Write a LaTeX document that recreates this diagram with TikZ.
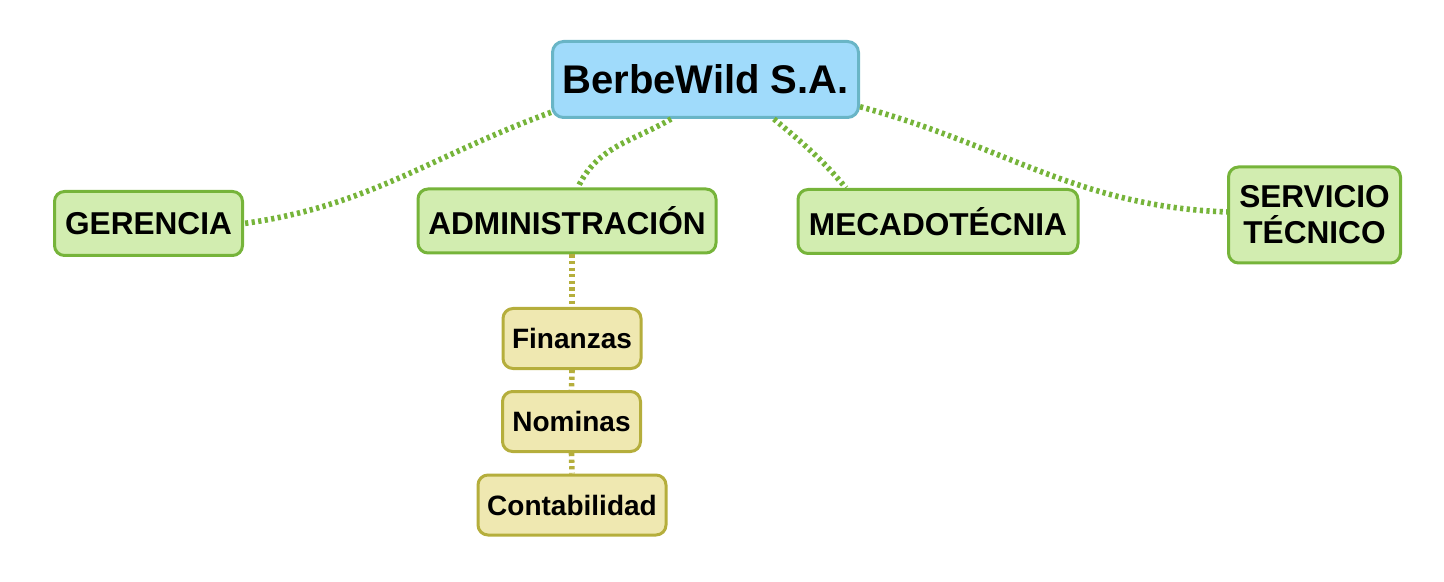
\documentclass[tikz,border=0pt]{standalone}
\usepackage{fontspec}
\setmainfont{Liberation Sans}
\definecolor{raizfill}{HTML}{A0DBFB}
\definecolor{raizline}{HTML}{69B5C6}
\definecolor{areafill}{HTML}{D2EDB0}
\definecolor{arealine}{HTML}{76B43A}
\definecolor{subfill}{HTML}{EFE8B1}
\definecolor{subline}{HTML}{B5AE3C}

\begin{document}
\begin{tikzpicture}[x=0.5pt, y=0.5pt,
  raiz/.style={draw=raizline, fill=raizfill, line width=1.5pt, rounded corners=5.5pt, inner sep=0pt,
    minimum width=153pt, minimum height=38pt, font=\bfseries\fontsize{20}{22}\selectfont},
  area/.style={draw=arealine, fill=areafill, line width=1.5pt, rounded corners=5pt, inner sep=0pt,
    minimum height=32pt, align=center, font=\bfseries\fontsize{15.8}{18}\selectfont},
  sub/.style={draw=subline, fill=subfill, line width=1.5pt, rounded corners=5pt, inner sep=0pt,
    minimum height=30pt, font=\bfseries\fontsize{14}{16}\selectfont},
  enlace/.style={draw=arealine, line width=2.8pt, dash pattern=on 1.6pt off 1.7pt},
  enlacesub/.style={draw=subline, line width=2.8pt, dash pattern=on 1.6pt off 1.7pt}]
\useasboundingbox (0,0) rectangle (1444,-582);

% nodos
\node[raiz] (raiz) at (705.5,-79.5) {BerbeWild S.A.};
\node[area, minimum width=94pt] (ger) at (148.5,-223.5) {GERENCIA};
\node[area, minimum width=149pt] (adm) at (567,-221) {ADMINISTRACIÓN};
\node[area, minimum width=140pt] (mec) at (938,-221.5) {MECADOTÉCNIA};
\node[area, minimum width=86pt, minimum height=48pt] (ser) at (1314.5,-215) {SERVICIO\\TÉCNICO};
\node[sub, minimum width=69pt] (fin) at (572,-338.5) {Finanzas};
\node[sub, minimum width=69pt] (nom) at (571.5,-421.5) {Nominas};
\node[sub, minimum width=94pt] (con) at (572,-505) {Contabilidad};

% enlaces
\draw[enlace] (raiz.192) to[out=200,in=8] (ger.east);
\draw[enlace] (raiz.229) to[out=210,in=65] (adm.72);
\draw[enlace] (raiz.-30) to[out=-40,in=130] (mec.160);
\draw[enlace] (raiz.-10) to[out=-15,in=178] (ser.178);
\draw[enlacesub] (adm.south -| fin.north) -- (fin.north);
\draw[enlacesub] (fin.south) -- (nom.north);
\draw[enlacesub] (nom.south) -- (con.north);
\end{tikzpicture}
\end{document}
